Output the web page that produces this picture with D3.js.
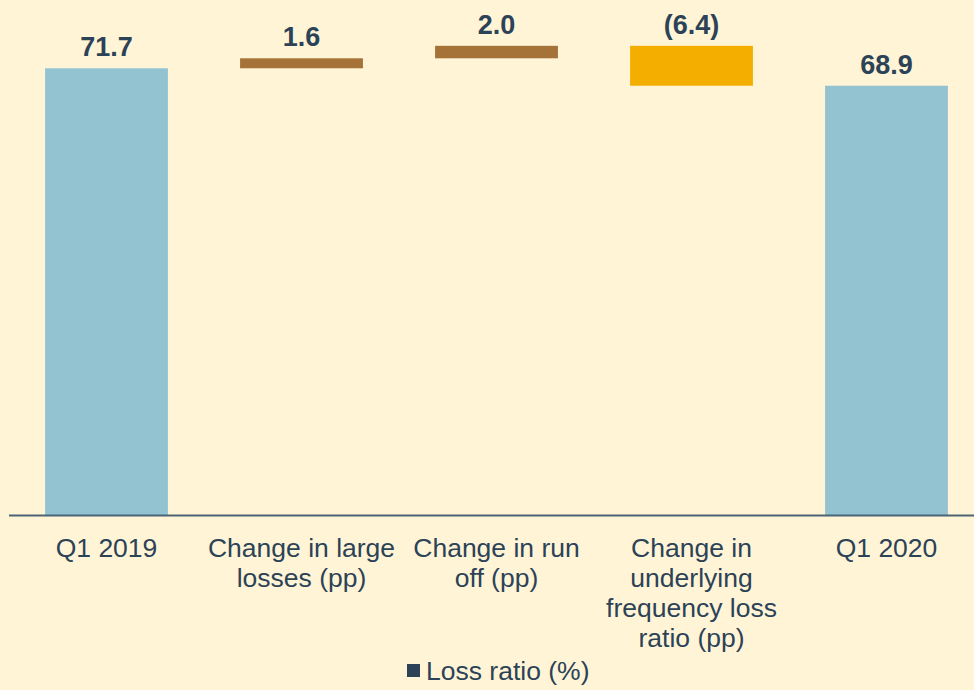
<!DOCTYPE html>
<html>
<head>
<meta charset="utf-8">
<script src="https://cdn.jsdelivr.net/npm/d3@7"></script>
<style>
  body { margin: 0; background: #fff5d6; }
  svg { display: block; font-family: Arial, "Liberation Sans", sans-serif; }
</style>
</head>
<body>
<div class="chart"></div>
<script>
// chart data
var categories = ["Q1 2019", "Change in large losses (pp)", "Change in run off (pp)",
  "Change in underlying frequency loss ratio (pp)", "Q1 2020"];
var categoryLines = [
  ["Q1 2019"],
  ["Change in large", "losses (pp)"],
  ["Change in run", "off (pp)"],
  ["Change in", "underlying", "frequency loss", "ratio (pp)"],
  ["Q1 2020"]
];
var values = [71.7, 1.6, 2.0, -6.4, 68.9];
var barTypes = ["total", "delta", "delta", "delta", "total"];
var valueLabels = ["71.7", "1.6", "2.0", "(6.4)", "68.9"];
var legendLabel = "Loss ratio (%)";

var svgWidth = 974;
var svgHeight = 690;
var baseY = 515.5;

var svg = d3.select(".chart")
  .append("svg")
  .attr("width", svgWidth)
  .attr("height", svgHeight)
  .style("background-color", "#fff5d6");

// build waterfall steps
var running = 0;
var steps = values.map(function (v, i) {
  var start, end;
  if (barTypes[i] == "total") {
    start = 0; end = v; running = v;
  } else {
    start = running; end = running + v; running = end;
  }
  return { cat: categories[i], lines: categoryLines[i], start: start, end: end,
           value: v, type: barTypes[i], label: valueLabels[i] };
});

var x = d3.scaleBand()
  .domain(categories)
  .range([9, 984])
  .paddingInner(0.37)
  .paddingOuter(0.185);

var y = d3.scaleLinear()
  .domain([0, 80])
  .range([baseY, 16.5]);

function barColor(d) {
  if (d.type == "total") return "#93c3d0";
  return d.value >= 0 ? "#a57238" : "#f4ae00";
}

svg.selectAll("rect.bar")
  .data(steps)
  .enter()
  .append("rect")
  .attr("class", "bar")
  .attr("x", d => x(d.cat))
  .attr("width", x.bandwidth())
  .attr("y", d => y(Math.max(d.start, d.end)))
  .attr("height", d => Math.abs(y(d.start) - y(d.end)))
  .attr("fill", barColor);

svg.selectAll("text.val")
  .data(steps)
  .enter()
  .append("text")
  .attr("class", "val")
  .attr("x", d => x(d.cat) + x.bandwidth() / 2)
  .attr("y", d => y(Math.max(d.start, d.end)) - 12)
  .attr("text-anchor", "middle")
  .attr("font-size", "27px")
  .attr("font-weight", "bold")
  .attr("fill", "#2c4257")
  .text(d => d.label);

// x axis
var xAxis = d3.axisBottom(x).tickSize(0).tickFormat("");
var axisG = svg.append("g")
  .attr("transform", `translate(0, ${baseY})`)
  .call(xAxis);
axisG.select(".domain")
  .attr("d", "M9,0H974")
  .attr("stroke", "#4b6475")
  .attr("stroke-width", 2);

axisG.selectAll(".tick").each(function (c, i) {
  var t = d3.select(this).append("text")
    .attr("text-anchor", "middle")
    .attr("font-size", "26.5px")
    .attr("fill", "#2c4257")
    .attr("y", 41.5);
  categoryLines[i].forEach(function (line, j) {
    t.append("tspan").attr("x", 0).attr("dy", j == 0 ? 0 : 30).text(line);
  });
});

// legend
svg.append("rect")
  .attr("x", 407)
  .attr("y", 664)
  .attr("width", 13)
  .attr("height", 13)
  .attr("fill", "#2c4257");
svg.append("text")
  .attr("x", 426)
  .attr("y", 680)
  .attr("font-size", "26.5px")
  .attr("fill", "#2c4257")
  .text(legendLabel);
</script>
</body>
</html>
